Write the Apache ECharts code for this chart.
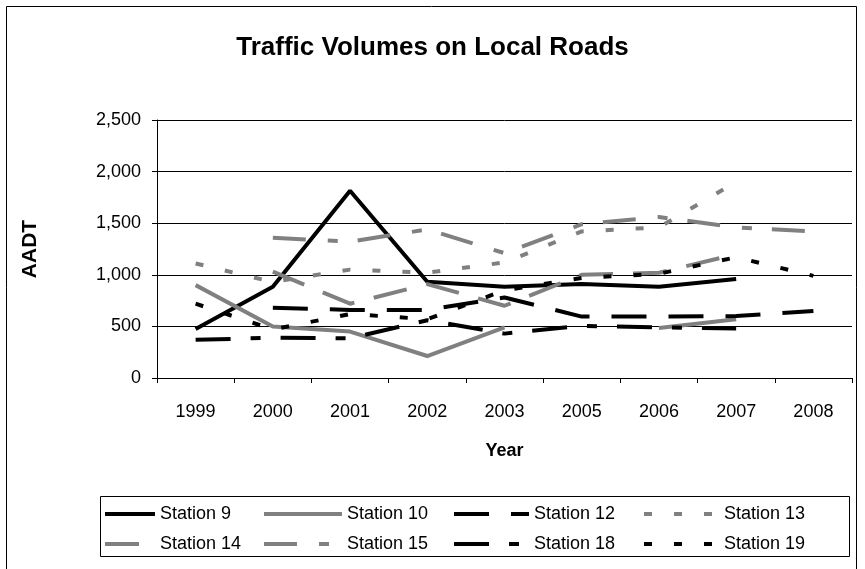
<!DOCTYPE html>
<html>
<head>
<meta charset="utf-8">
<style>
  html, body { margin: 0; padding: 0; background: #fff; }
  #main { width: 865px; height: 569px; }
</style>
<script src="https://cdn.jsdelivr.net/npm/echarts@6/dist/echarts.min.js"></script>
</head>
<body>
<div id="main"></div>
<script>
// data
var years = ['1999', '2000', '2001', '2002', '2003', '2005', '2006', '2007', '2008'];
var station9  = [475, 885, 1815, 933, 885, 910, 885, 960, null];
var station10 = [900, 500, 450, 213, 490, null, 485, 570, null];
var station12 = [null, 680, 660, 660, 780, 595, 595, 600, 650];
var station13 = [1110, 930, 1050, 1020, 1120, 1420, 1460, 1900, null];
var station14 = [null, 1030, 720, 910, 700, 1000, 1020, 1200, null];
var station15 = [null, 1360, 1320, 1440, 1210, 1490, 1560, 1460, 1420];
var station18 = [370, 390, 385, 560, 430, 505, 490, 480, null];
var station19 = [720, 470, 620, 570, 850, 970, 1010, 1170, 990];
var yTicks = [0, 500, 1000, 1500, 2000, 2500];

var FONT = 'Liberation Sans, Arial, sans-serif';
var GRAY = '#808080';

function line(name, data, color, dash) {
  return {
    name: name,
    type: 'line',
    data: data,
    symbol: 'none',
    connectNulls: false,
    animation: false,
    lineStyle: { color: color, width: 4, type: dash },
    itemStyle: { color: color }
  };
}

function legendCol(left, width, names) {
  return {
    orient: 'vertical',
    left: left,
    top: 505,
    itemWidth: width,
    itemHeight: 16,
    itemGap: 12,
    padding: 0,
    selectedMode: false,
    data: names,
    itemStyle: { opacity: 0 },
    lineStyle: { width: 4 },
    textStyle: { fontFamily: FONT, fontSize: 18, color: '#000' }
  };
}

var chart = echarts.init(document.getElementById('main'));
chart.setOption({
  backgroundColor: '#fff',
  animation: false,
  title: {
    text: 'Traffic Volumes on Local Roads',
    left: 'center',
    top: 30,
    textStyle: { fontFamily: FONT, fontSize: 26, fontWeight: 'bold', color: '#000' }
  },
  grid: { left: 157, right: 13, top: 120, bottom: 191, containLabel: false },
  xAxis: {
    type: 'category',
    data: years,
    boundaryGap: true,
    name: 'Year',
    nameLocation: 'middle',
    nameGap: 64,
    nameTextStyle: { fontFamily: FONT, fontSize: 18, fontWeight: 'bold', color: '#000' },
    axisLine: { lineStyle: { color: '#000', width: 1 } },
    axisTick: { show: true, length: 5, alignWithLabel: false, lineStyle: { color: '#000' } },
    axisLabel: { margin: 25, fontFamily: FONT, fontSize: 18, color: '#000' },
    splitLine: { show: false }
  },
  yAxis: {
    type: 'value',
    min: yTicks[0],
    max: yTicks[yTicks.length - 1],
    interval: 500,
    name: 'AADT',
    nameLocation: 'middle',
    nameGap: 116,
    nameTextStyle: { fontFamily: FONT, fontSize: 21, fontWeight: 'bold', color: '#000' },
    axisLine: { show: true, lineStyle: { color: '#000', width: 1 } },
    axisTick: { show: true, length: 5, lineStyle: { color: '#000' } },
    axisLabel: {
      margin: 16,
      fontFamily: FONT,
      fontSize: 18,
      color: '#000',
      formatter: function (v) { return v.toLocaleString('en-US'); }
    },
    splitLine: { show: true, lineStyle: { color: '#000', width: 1 } }
  },
  legend: [
    legendCol(103, 50, ['Station 9', 'Station 14']),
    legendCol(262, 78, ['Station 10', 'Station 15']),
    legendCol(452, 75, ['Station 12', 'Station 18']),
    legendCol(642, 75, ['Station 13', 'Station 19'])
  ],
  graphic: [
    {
      type: 'rect',
      silent: true,
      shape: { x: 100.5, y: 496.5, width: 749, height: 60 },
      style: { fill: null, stroke: '#000', lineWidth: 1 }
    },
    {
      type: 'polyline',
      silent: true,
      shape: { points: [[6.5, 569], [6.5, 6.5], [856.5, 6.5], [856.5, 569]] },
      style: { fill: null, stroke: '#000', lineWidth: 1 }
    }
  ],
  series: [
    line('Station 9', station9, '#000', 'solid'),
    line('Station 10', station10, GRAY, 'solid'),
    line('Station 12', station12, '#000', [35, 22]),
    line('Station 13', station13, GRAY, [8, 22]),
    line('Station 14', station14, GRAY, [34, 20]),
    line('Station 15', station15, GRAY, [33, 22, 10, 20]),
    line('Station 18', station18, '#000', [35, 20, 10, 20]),
    line('Station 19', station19, '#000', [8, 22])
  ]
});
</script>
</body>
</html>
